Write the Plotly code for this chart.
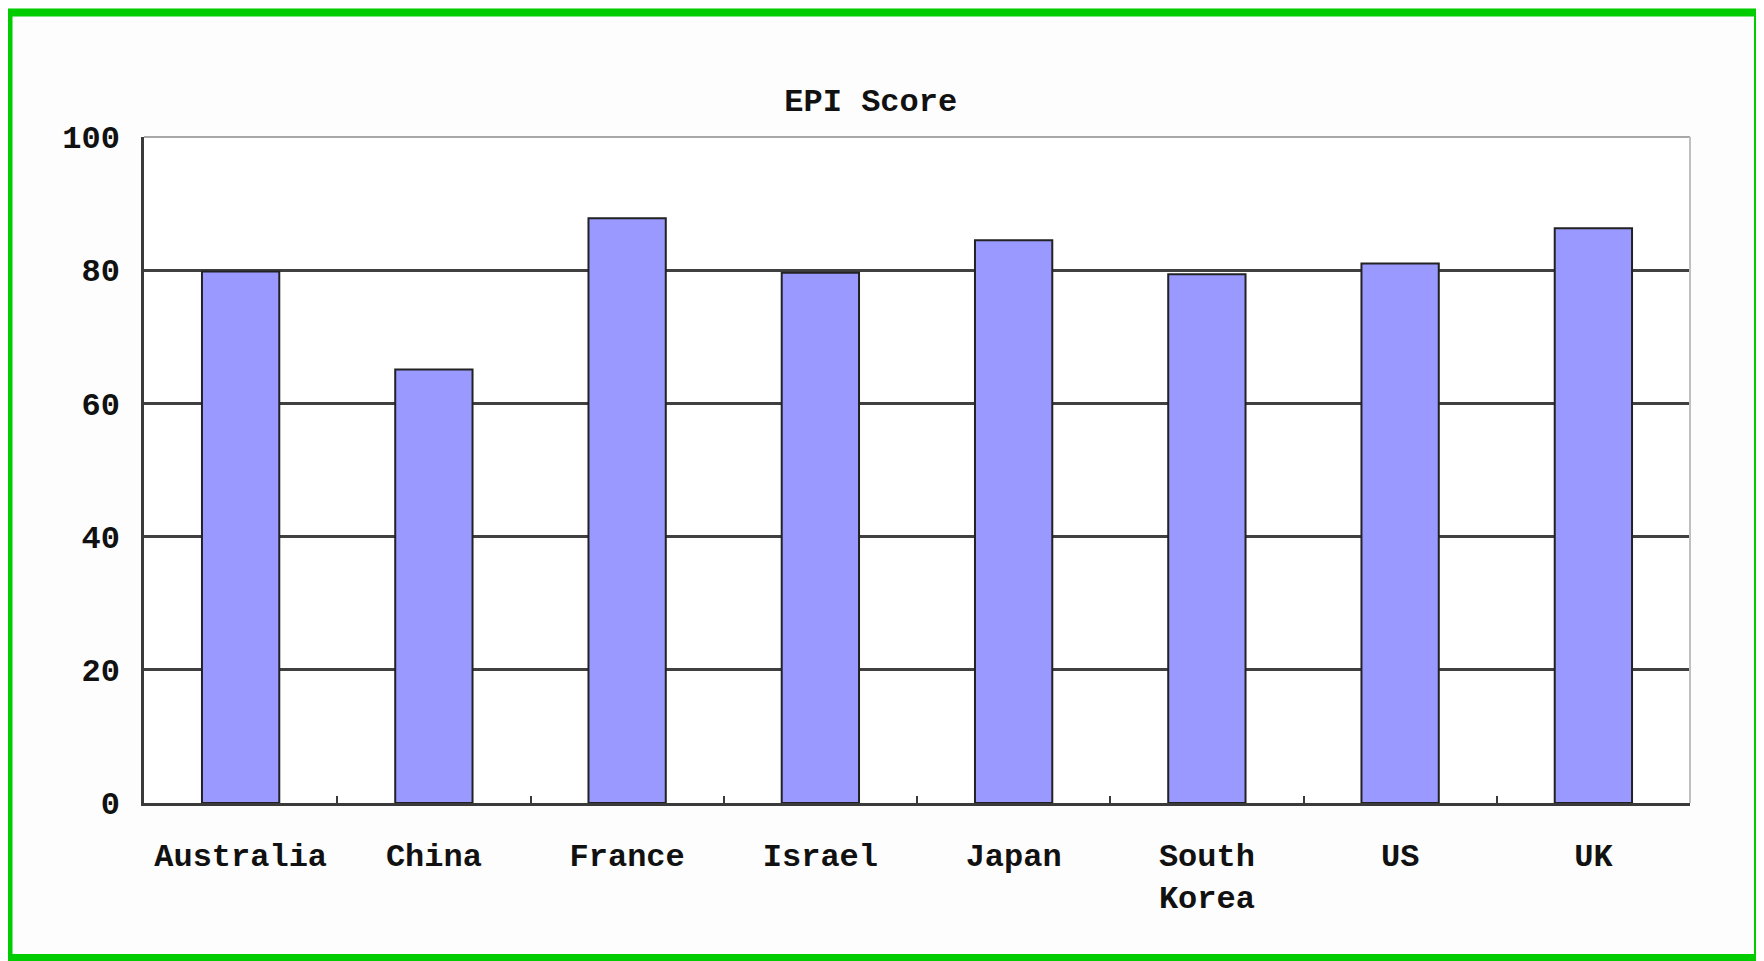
import plotly.graph_objects as go

countries = ["Australia", "China", "France", "Israel", "Japan", "South<br>Korea", "US", "UK"]
epi_scores = [79.8, 65.1, 87.8, 79.6, 84.5, 79.4, 81.0, 86.3]
y_ticks = [0, 20, 40, 60, 80, 100]

W, H = 1764, 961
# page body has an 8px margin, so the figure sits 8px right and down
ML, MR, MT, MB = 136, 82, 129, 166
FONT = "Liberation Mono"
pw, ph = W - ML - MR, H - MT - MB


def px(fx):
    return (fx - ML) / pw


def py(fy):
    return (H - MB - fy) / ph


fig = go.Figure(
    go.Bar(
        x=countries,
        y=epi_scores,
        width=0.4,
        marker=dict(color="#9999FF", line=dict(color="#222222", width=2)),
    )
)

# plot-area frame: light grey top and right edge
fig.add_shape(type="line", xref="paper", yref="paper", x0=0, x1=1, y0=1, y1=1,
              line=dict(color="#a8a8a8", width=2), layer="above")
fig.add_shape(type="line", xref="paper", yref="paper", x0=1, x1=1, y0=0, y1=1,
              line=dict(color="#c0c0c0", width=2), layer="above")

# green outer frame around the whole picture
fig.add_shape(type="rect", xref="paper", yref="paper",
              x0=px(0.5), x1=px(1750), y0=py(950), y1=py(4.5),
              line=dict(color="#00CC00", width=8), layer="above")

fig.update_layout(
    width=W,
    height=H,
    margin=dict(l=ML, r=MR, t=MT, b=MB),
    paper_bgcolor="#fdfdfd",
    plot_bgcolor="#ffffff",
    showlegend=False,
    title=dict(
        text="<b>EPI Score</b>",
        x=(774 * 1.125 - 8) / W,
        xanchor="center",
        y=1 - (89 * 1.125 - 8) / H,
        yanchor="middle",
        font=dict(family=FONT, size=32, color="#111111"),
    ),
)

fig.update_xaxes(
    showline=True,
    linecolor="#3a3a3a",
    linewidth=2.5,
    ticks="inside",
    tickson="boundaries",
    ticklen=7,
    tickcolor="#3a3a3a",
    tickwidth=1.5,
    showgrid=False,
    ticklabelstandoff=22,
    tickfont=dict(family=FONT, size=32, color="#111111", weight="bold"),
)

fig.update_yaxes(
    range=[0, 100],
    tickvals=y_ticks,
    ticktext=[str(v) for v in y_ticks],
    showline=True,
    linecolor="#3a3a3a",
    linewidth=2.5,
    showgrid=True,
    gridcolor="#404040",
    gridwidth=2.5,
    zeroline=False,
    ticks="",
    ticklabelstandoff=15,
    tickfont=dict(family=FONT, size=32, color="#111111", weight="bold"),
)

fig.write_html("out.html")
